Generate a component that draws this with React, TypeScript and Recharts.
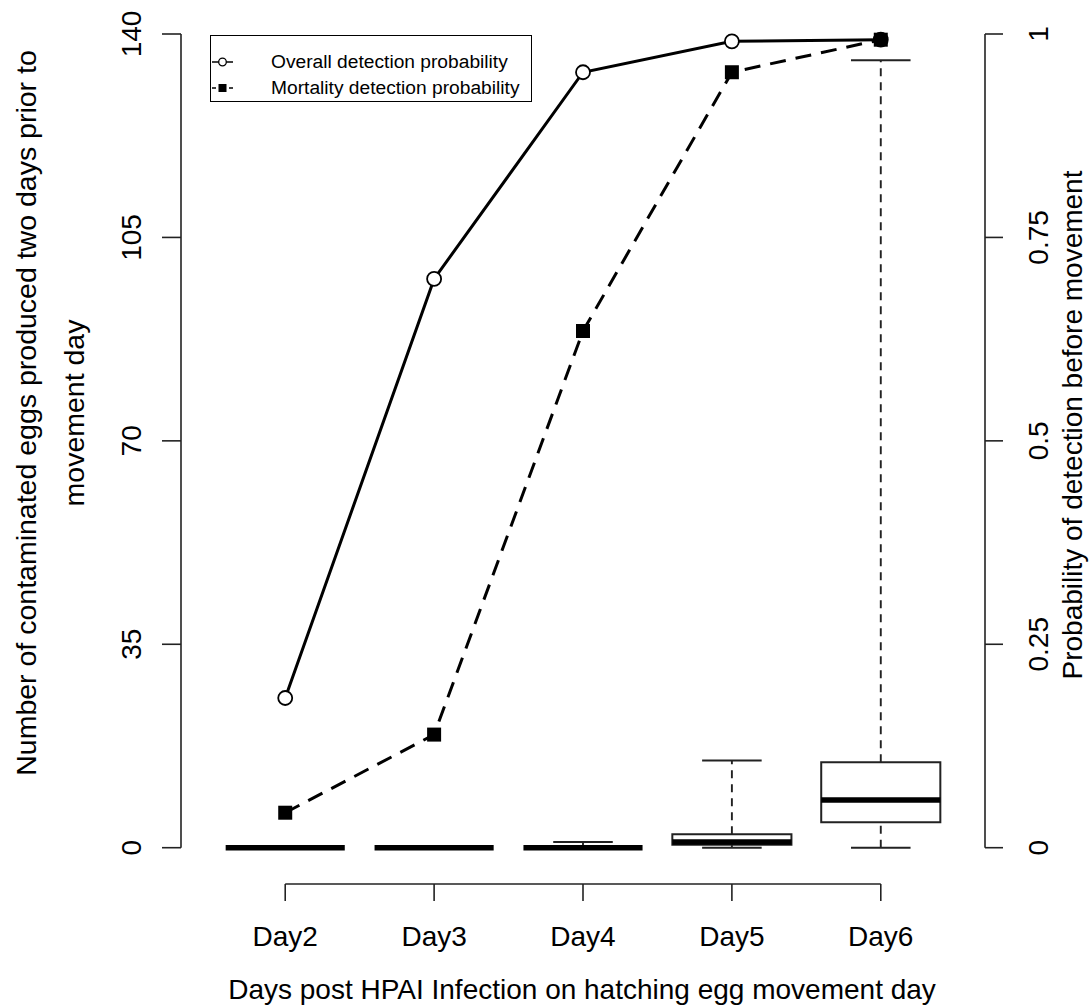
import {
  ComposedChart,
  Legend,
  Line,
  ReferenceArea,
  ReferenceLine,
  XAxis,
  YAxis,
} from 'recharts'

const DAYS = ['Day2', 'Day3', 'Day4', 'Day5', 'Day6']
const POSITIONS = [1, 2, 3, 4, 5]
const OVERALL_PROB = [0.184, 0.699, 0.953, 0.991, 0.993]
const MORTALITY_PROB = [0.043, 0.139, 0.635, 0.953, 0.993]

// boxplot stats of contaminated eggs per day
const EGG_MIN = [0, 0, 0, 0, 0]
const EGG_Q1 = [0, 0, 0, 0.5, 4.4]
const EGG_MEDIAN = [0, 0, 0, 1, 8.2]
const EGG_Q3 = [0, 0, 0, 2.3, 14.7]
const EGG_MAX = [0, 0, 1, 15, 135.5]

const LEFT_TICKS = [0, 35, 70, 105, 140]
const RIGHT_TICKS = [0, 0.25, 0.5, 0.75, 1]

const FONT = '"Liberation Sans", Arial, sans-serif'
const W = 1091
const H = 1006
const BOX_HALF = 0.4
const CAP_HALF = 0.2

const data = POSITIONS.map((x, i) => ({
  x,
  day: DAYS[i],
  overall: OVERALL_PROB[i],
  mortality: MORTALITY_PROB[i],
  eggMedian: EGG_MEDIAN[i],
}))

let firstTickX = 0

function XTick(props: any) {
  const { x, payload } = props
  const i = POSITIONS.indexOf(payload.value)
  if (i === 0) firstTickX = x
  const isLast = i === POSITIONS.length - 1
  return (
    <g>
      {isLast && <line x1={firstTickX} x2={x} y1={884} y2={884} stroke="#222" strokeWidth={1.6} />}
      <line x1={x} x2={x} y1={884} y2={901} stroke="#222" strokeWidth={1.6} />
      <text x={x} y={946} textAnchor="middle" fontSize={28} fontFamily={FONT} fill="#000">
        {DAYS[i]}
      </text>
    </g>
  )
}

function LeftTick(props: any) {
  const { y, payload } = props
  return (
    <text x={141} y={y} transform={`rotate(-90, 141, ${y})`} textAnchor="middle" fontSize={28} fontFamily={FONT} fill="#000">
      {payload.value}
    </text>
  )
}

function RightTick(props: any) {
  const { y, payload } = props
  return (
    <text x={1048} y={y} transform={`rotate(-90, 1048, ${y})`} textAnchor="middle" fontSize={28} fontFamily={FONT} fill="#000">
      {payload.value}
    </text>
  )
}

function LeftTitle() {
  const cy = 413
  return (
    <g fontSize={28.5} fontFamily={FONT} fill="#000">
      <text x={36} y={cy} transform={`rotate(-90, 36, ${cy})`} textAnchor="middle">
        Number of contaminated eggs produced two days prior to
      </text>
      <text x={84} y={cy} transform={`rotate(-90, 84, ${cy})`} textAnchor="middle">
        movement day
      </text>
    </g>
  )
}

function RightTitle() {
  const cy = 425
  return (
    <text x={1082} y={cy} transform={`rotate(-90, 1082, ${cy})`} textAnchor="middle" fontSize={28} fontFamily={FONT} fill="#000">
      Probability of detection before movement
    </text>
  )
}

function XTitle() {
  return (
    <text x={582} y={999} textAnchor="middle" fontSize={28} fontFamily={FONT} fill="#000">
      Days post HPAI Infection on hatching egg movement day
    </text>
  )
}

function CircleDot(props: any) {
  const { cx, cy, index } = props
  return <circle key={`c${index}`} cx={cx} cy={cy} r={7} fill="#fff" stroke="#000" strokeWidth={1.8} />
}

function SquareDot(props: any) {
  const { cx, cy, index } = props
  return <rect key={`s${index}`} x={cx - 7} y={cy - 7} width={14} height={14} fill="#000" />
}

function LegendBox() {
  const row = { display: 'flex', alignItems: 'center', height: 26 }
  return (
    <div
      style={{
        width: 322,
        height: 67,
        border: '1.5px solid #000',
        boxSizing: 'border-box',
        background: '#fff',
        fontFamily: FONT,
        fontSize: 19.2,
        color: '#000',
        paddingTop: 13,
      }}
    >
      <div style={row}>
        <svg width={60} height={26}>
          <line x1={1} x2={22} y1={13} y2={13} stroke="#000" strokeWidth={1.5} />
          <circle cx={11.5} cy={13} r={3.8} fill="#fff" stroke="#000" strokeWidth={1.3} />
        </svg>
        <span>Overall detection probability</span>
      </div>
      <div style={row}>
        <svg width={60} height={26}>
          <line x1={1} x2={5} y1={13} y2={13} stroke="#000" strokeWidth={1.5} />
          <rect x={7.5} y={9} width={8} height={8} fill="#000" />
          <line x1={18} x2={22} y1={13} y2={13} stroke="#000" strokeWidth={1.5} />
        </svg>
        <span>Mortality detection probability</span>
      </div>
    </div>
  )
}

function Boxes() {
  return POSITIONS.flatMap((p, i) => {
    const els = []
    if (EGG_MAX[i] > EGG_Q3[i]) {
      els.push(
        <ReferenceLine key={`uw${i}`} yAxisId="left" segment={[{ x: p, y: EGG_Q3[i] }, { x: p, y: EGG_MAX[i] }]} stroke="#222" strokeWidth={1.9} strokeDasharray="8 6" />,
      )
    }
    if (EGG_Q1[i] > EGG_MIN[i]) {
      els.push(
        <ReferenceLine key={`lw${i}`} yAxisId="left" segment={[{ x: p, y: EGG_MIN[i] }, { x: p, y: EGG_Q1[i] }]} stroke="#222" strokeWidth={1.9} strokeDasharray="8 6" />,
      )
    }
    els.push(
      <ReferenceLine key={`uc${i}`} yAxisId="left" segment={[{ x: p - CAP_HALF, y: EGG_MAX[i] }, { x: p + CAP_HALF, y: EGG_MAX[i] }]} stroke="#222" strokeWidth={2} />,
      <ReferenceLine key={`lc${i}`} yAxisId="left" segment={[{ x: p - CAP_HALF, y: EGG_MIN[i] }, { x: p + CAP_HALF, y: EGG_MIN[i] }]} stroke="#222" strokeWidth={2} />,
    )
    if (EGG_Q3[i] > EGG_Q1[i]) {
      els.push(
        <ReferenceArea key={`bx${i}`} yAxisId="left" x1={p - BOX_HALF} x2={p + BOX_HALF} y1={EGG_Q1[i]} y2={EGG_Q3[i]} fill="#fff" fillOpacity={1} stroke="#222" strokeWidth={2} />,
      )
    }
    els.push(
      <ReferenceLine key={`md${i}`} yAxisId="left" segment={[{ x: p - BOX_HALF, y: EGG_MEDIAN[i] }, { x: p + BOX_HALF, y: EGG_MEDIAN[i] }]} stroke="#000" strokeWidth={5.5} />,
    )
    return els
  })
}

export default function App() {
  return (
    <div style={{ position: 'absolute', left: 0, top: 0, width: W, height: H, background: '#fff' }}>
      <ComposedChart width={W} height={H} data={data} margin={{ top: 34, right: 26, bottom: 58.3, left: 81 }}>
        <XAxis
          dataKey="x"
          type="number"
          domain={[0.3, 5.7]}
          ticks={POSITIONS}
          interval={0}
          axisLine={false}
          tickLine={false}
          tick={<XTick />}
          height={100}
          label={<XTitle />}
        />
        <YAxis
          yAxisId="left"
          orientation="left"
          type="number"
          domain={[0, 140]}
          ticks={LEFT_TICKS}
          interval={0}
          width={100}
          axisLine={{ stroke: '#222', strokeWidth: 1.6 }}
          tickLine={{ stroke: '#222', strokeWidth: 1.6 }}
          tickSize={19}
          tick={<LeftTick />}
          label={<LeftTitle />}
        />
        <YAxis
          yAxisId="right"
          orientation="right"
          type="number"
          domain={[0, 1]}
          ticks={RIGHT_TICKS}
          interval={0}
          width={80}
          axisLine={{ stroke: '#222', strokeWidth: 1.6 }}
          tickLine={{ stroke: '#222', strokeWidth: 1.6 }}
          tickSize={18}
          tick={<RightTick />}
          label={<RightTitle />}
        />
        {/* invisible series so the left axis gets data and a scale */}
        <Line
          yAxisId="left"
          dataKey="eggMedian"
          stroke="none"
          dot={false}
          activeDot={false}
          legendType="none"
          isAnimationActive={false}
        />
        {Boxes()}
        <Line
          yAxisId="right"
          dataKey="overall"
          name="Overall detection probability"
          type="linear"
          stroke="#000"
          strokeWidth={3}
          dot={<CircleDot />}
          isAnimationActive={false}
        />
        <Line
          yAxisId="right"
          dataKey="mortality"
          name="Mortality detection probability"
          type="linear"
          stroke="#000"
          strokeWidth={3}
          strokeDasharray="16 10"
          dot={<SquareDot />}
          isAnimationActive={false}
        />
        <Legend
          layout="horizontal"
          verticalAlign="middle"
          align="center"
          content={<LegendBox />}
          wrapperStyle={{ left: 210, top: 35, width: 322, height: 67 }}
        />
      </ComposedChart>
    </div>
  )
}
